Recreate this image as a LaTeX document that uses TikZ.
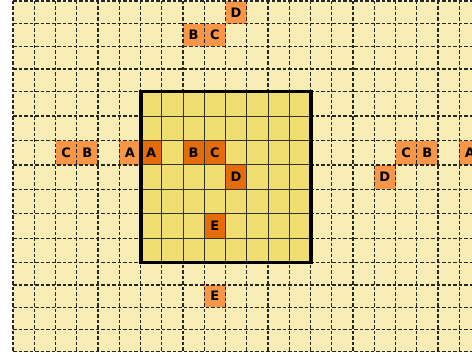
\documentclass[tikz,border=0pt]{standalone}
\usepackage{fontspec}
\setsansfont{DejaVu Sans}
\usepackage{tikz}
\usetikzlibrary{positioning}

\definecolor{gridbg}{RGB}{248,237,180}
\definecolor{boxbg}{RGB}{241,222,112}
\definecolor{hitdark}{RGB}{228,108,10}
\definecolor{hitlight}{RGB}{247,150,70}

\begin{document}
\begin{tikzpicture}[
    x=1pt, y=-1pt,
    cellout/.style = {fill=hitlight, minimum width=21.25pt, minimum height=22.6pt, inner sep=0pt, font=\sffamily\bfseries\fontsize{13}{15}\selectfont},
    cellin/.style  = {cellout, fill=hitdark, minimum height=24.4pt},
    tall/.style    = {minimum height=24.4pt},
    dgrid/.style   = {dash pattern=on 3.5pt off 2pt, line width=1.2pt, black!85},
    igrid/.style   = {line width=1pt, black!80},
    frame/.style   = {line width=3.5pt, black}
]
\useasboundingbox (0,0) rectangle (472,358);

% ---- Outer grid background ----
\fill[gridbg] (13,1) rectangle (472,351.7);

% ---- Shifted copies (outside) ----
\node[cellout]       (tD)  at (236.125,12.35)  {D};
\node[cellout]       (tB)  at (193.625,35.05)  {B};
\node[cellout]       (tC)  at (214.875,35.05)  {C};
\node[cellout, tall] (lC)  at (66.125,152.8)   {C};
\node[cellout, tall] (lB)  at (87.375,152.8)   {B};
\node[cellout, tall] (lA)  at (129.875,152.8)  {A};
\node[cellout, tall] (rC)  at (406.125,152.8)  {C};
\node[cellout, tall] (rB)  at (427.375,152.8)  {B};
\node[cellout, tall] (rA)  at (469.875,152.8)  {A};
\node[cellout, tall] (rD)  at (384.875,177.2)  {D};
\node[cellout]       (bE)  at (214.875,296.1)  {E};

% ---- Dashed grid ----
\foreach \i in {0,...,21}
    \draw[dgrid] ({13+21.25*\i},1) -- ({13+21.25*\i},351.7);
\foreach \y in {1,23.7,46.4,69.1,91.7,116.1,140.6,165.0,189.4,213.9,238.3,262.7,285,307.2,329.5,351.7}
    \draw[dgrid] (13,\y) -- (472,\y);

% ---- Box ----
\fill[boxbg] (140.75,91.7) rectangle (310.75,262.7);

\node[cellin] (A) at (151.125,152.8) {A};
\node[cellin] (B) at (193.625,152.8) {B};
\node[cellin] (C) at (214.875,152.8) {C};
\node[cellin] (D) at (236.125,177.2) {D};
\node[cellin] (E) at (214.875,226.1) {E};

\foreach \i in {7,...,13}
    \draw[igrid] ({13+21.25*\i},91.7) -- ({13+21.25*\i},262.7);
\foreach \y in {116.1,140.6,165.0,189.4,213.9,238.3}
    \draw[igrid] (140.75,\y) -- (310.75,\y);

\draw[frame] (140.75,91.7) rectangle (310.75,262.7);

\end{tikzpicture}
\end{document}
